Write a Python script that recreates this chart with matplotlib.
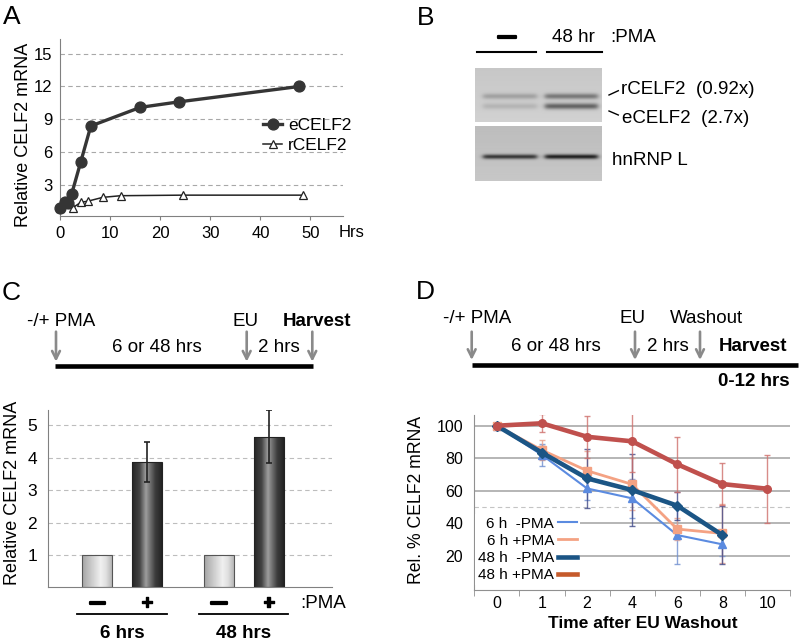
import numpy as np
import matplotlib
matplotlib.use("Agg")
import matplotlib.pyplot as plt
from matplotlib.lines import Line2D
from matplotlib import transforms
from matplotlib import patheffects as pe

plt.rcParams["font.family"] = ["Liberation Sans", "DejaVu Sans"]

W, H = 802, 640

# ---- panel A: time course (hrs) ----
a_e_hrs = [0, 1, 1.6, 2.3, 4.1, 6.1, 16, 23.7, 47.7]
a_e_val = [0.95, 1.5, 1.4, 2.25, 5.15, 8.4, 10.1, 10.6, 12.0]
a_r_hrs = [0, 2.5, 4.1, 5.5, 8.5, 12.1, 24.5, 48.5]
a_r_val = [0.9, 0.95, 1.45, 1.55, 1.9, 2.05, 2.1, 2.1]
a_yticks = [3, 6, 9, 12, 15]
a_xticks = [0, 10, 20, 30, 40, 50]

# ---- panel B: western blot (band darkness per lane) ----
b_lanes = ["\u2014", "48 hr"]
b_r_dark = [0.17, 0.33]
b_e_dark = [0.10, 0.42]
b_l_dark = [0.55, 0.64]

# ---- panel C: bars ----
c_pma = ["\u2014", "+", "\u2014", "+"]
c_groups = ["6 hrs", "48 hrs"]
c_val = [1.0, 3.87, 1.0, 4.65]
c_err = [0.0, 0.62, 0.0, 0.82]

# ---- panel D: decay after washout ----
d_time = ["0", "1", "2", "4", "6", "8", "10"]
d_labels = ["6 h  -PMA", "6 h +PMA", "48 h  -PMA", "48 h +PMA"]
d_6m = [100, 82, 61.4, 55.3, 32.7, 27.0]
d_6m_err = [1.5, 7, 7, 12, 18, 7]
d_6p = [100, 85, 72.3, 63.9, 36.4, 33.7]
d_6p_err = [1.5, 6, 12, 16, 7, 18]
d_48m = [100, 83.4, 67.6, 60.4, 50.8, 32.7]
d_48m_err = [1.5, 4, 18, 22, 8.6, 18]
d_48p = [100, 101.5, 93.2, 90.4, 76.3, 64.1, 61.2]
d_48p_err = [1.5, 5.5, 13, 19, 17, 12.7, 21]

FS = 13.5
GRAY = "#8a8a8a"
THICK = [pe.withStroke(linewidth=1.6, foreground="black")]

fig = plt.figure(figsize=(W/100, H/100), dpi=100)
ov = fig.add_axes([0, 0, 1, 1])
ov.axis("off")

def px_axes(x0, y0, x1, y1):
    ax = fig.add_axes([x0/W, 1-y1/H, (x1-x0)/W, (y1-y0)/H])
    ax.set_facecolor("none")
    return ax

def t(x, y, s, **kw):
    kw.setdefault("fontsize", FS); kw.setdefault("ha", "center"); kw.setdefault("va", "center")
    ov.text(x, y, s, **kw)

# panel letters
for (x, y, s) in [(11.5, 17, "A"), (426, 18, "B"), (11, 293, "C"), (425, 292, "D")]:
    t(x, y, s, fontsize=19)

# ================= A =================
axA = px_axes(60.3, 39.3, 343, 216)
for v in a_yticks:
    axA.axhline(v, color="#a8a8a8", ls=(0, (4, 3)), lw=0.8, zorder=0)
axA.plot(a_r_hrs, a_r_val, "-^", color="#222222", mfc="white", mec="#222222", lw=1.1, ms=5.5, mew=0.9,
         clip_on=False, zorder=3, label="rCELF2")
axA.plot(a_e_hrs, a_e_val, "-o", color="#353535", lw=2.4, ms=7.8, clip_on=False, zorder=4, label="eCELF2")
axA.set_xlim(0, 56.5); axA.set_ylim(0.2, 16.3)
axA.set_xticks(a_xticks); axA.set_yticks(a_yticks)
axA.tick_params(axis="x", length=3, color="#808080", labelsize=12, pad=4.5)
axA.tick_params(axis="y", length=0, labelsize=12, pad=5.5)
for s in ["top", "right"]:
    axA.spines[s].set_visible(False)
for s in ["left", "bottom"]:
    axA.spines[s].set_color("#808080")
h, l = axA.get_legend_handles_labels()
axA.legend(h[::-1], l[::-1], loc="center left", bbox_to_anchor=(263/W, 1-135.5/H), bbox_transform=fig.transFigure,
           frameon=False, handlelength=1.1, handletextpad=0.35, borderpad=0, borderaxespad=0,
           labelspacing=0.3, fontsize=12.5)
t(352, 232.7, "Hrs", fontsize=12)
t(23.3, 135, "Relative CELF2 mRNA", fontsize=13, rotation=90)

# ================= B =================
def blot(x0, x1, y0, y1, bg, bands):
    xs = np.linspace(x0, x1, int((x1-x0)*3)); ys = np.linspace(y0, y1, int((y1-y0)*3))
    X, Y = np.meshgrid(xs, ys)
    img = np.full(X.shape, bg) + 0.04*(Y-y0)/(y1-y0)
    for (lx0, lx1, by, bh, d) in bands:
        wx = 1/(1+np.exp(-(X-lx0)*0.7)) / (1+np.exp((X-lx1)*0.7))
        img = img - d*wx*np.exp(-((Y-by)/bh)**2)
    ov.imshow(img, cmap="gray", vmin=0, vmax=1, extent=(x0, x1, y1, y0), aspect="auto",
              interpolation="bilinear", zorder=2)

lane_x = [(483, 537), (545, 598)]
blot(475, 602, 67.7, 121.7, 0.78,
     [(lane_x[i][0], lane_x[i][1], 96, 2.8, b_r_dark[i]) for i in range(2)] +
     [(lane_x[i][0], lane_x[i][1], 106, 3.0, b_e_dark[i]) for i in range(2)])
blot(475, 602, 126.7, 181, 0.74,
     [(lane_x[i][0], lane_x[i][1], 157, 2.3, b_l_dark[i]) for i in range(2)])
ov.plot([476.7, 536], [51.7, 51.7], color="black", lw=1.5)
ov.plot([546.7, 601.7], [51.7, 51.7], color="black", lw=1.5)
t(507, 37.7, b_lanes[0], fontsize=13, fontweight="bold", path_effects=THICK)
t(573, 37.7, b_lanes[1])
t(610.7, 37.7, ":PMA", ha="left")
t(620.7, 89.3, "rCELF2  (0.92x)", ha="left")
t(621.7, 118.3, "eCELF2  (2.7x)", ha="left")
ov.plot([609, 618.3], [95, 90.7], color="black", lw=1)
ov.plot([609, 618.3], [111, 115], color="black", lw=1)
t(612, 160.7, "hnRNP L", ha="left")

# ================= C =================
def timeline(arrows_x, y0, y1, line_x0, line_x1, line_y):
    for x in arrows_x:
        ov.annotate("", xy=(x, y1), xytext=(x, y0),
                    arrowprops=dict(arrowstyle="->", color=GRAY, lw=1.9, mutation_scale=14, shrinkA=0, shrinkB=0))
    ov.plot([line_x0, line_x1], [line_y, line_y], color="black", lw=3.3, solid_capstyle="butt")

timeline([56, 246.7, 312.3], 331.7, 361.7, 55, 313, 365.7)
t(26.7, 321.7, "-/+ PMA", ha="left")
t(156.7, 347.7, "6 or 48 hrs")
t(246, 321.7, "EU")
t(317.3, 321.7, "Harvest", fontweight="bold")
t(279.3, 347.7, "2 hrs")

axC = px_axes(48.3, 410, 331.7, 587.4)
gap = 2.45
c_pos = [g*gap + k for g in range(len(c_groups)) for k in range(2)]
for v in range(1, 6):
    axC.axhline(v, color="#bdbdbd", ls=(0, (4, 3)), lw=0.8, zorder=0)
bars = axC.bar(c_pos, c_val, width=0.6, facecolor="none", zorder=3,
               edgecolor=["#555555", "#222222", "#555555", "#222222"], lw=0.8)
light = [(0, 0.64), (0.2, 0.74), (0.62, 0.94), (0.8, 0.88), (1, 0.72)]
dark = [(0, 0.15), (0.25, 0.26), (0.47, 0.62), (0.56, 0.5), (0.78, 0.24), (1, 0.14)]
tt = np.linspace(0, 1, 80)
for b, sign in zip(bars, c_pma):
    stops = dark if sign == "+" else light
    g = np.interp(tt, [s[0] for s in stops], [s[1] for s in stops])
    im = axC.imshow(np.tile(g, (2, 1)), cmap="gray", vmin=0, vmax=1, aspect="auto", interpolation="bilinear",
                    extent=(b.get_x(), b.get_x()+b.get_width(), 0, b.get_height()), zorder=2.5)
    im.set_clip_path(b)
ep = [p for p, e in zip(c_pos, c_err) if e > 0]
axC.errorbar(ep, [v for v, e in zip(c_val, c_err) if e > 0], yerr=[e for e in c_err if e > 0],
             fmt="none", ecolor="#222222", elinewidth=1.2, capsize=2.5, capthick=1.2, zorder=4)
axC.set_xlim(-0.986, 4.72); axC.set_ylim(0, 5.47)
axC.set_xticks([]); axC.set_yticks(range(1, 6))
axC.tick_params(axis="y", length=0, labelsize=12.5, pad=8)
for s in ["top", "right"]:
    axC.spines[s].set_visible(False)
for s in ["left", "bottom"]:
    axC.spines[s].set_color("#808080")
bt = transforms.blended_transform_factory(axC.transData, ov.transData)
for p, s in zip(c_pos, c_pma):
    if s == "+":
        axC.text(p, 603.3, s, transform=bt, fontsize=FS+1, fontweight="bold", ha="center", va="center",
                 clip_on=False, path_effects=[pe.withStroke(linewidth=1.0, foreground="black")])
    else:
        axC.text(p, 603.3, s, transform=bt, fontsize=11, fontweight="bold", ha="center", va="center",
                 clip_on=False, path_effects=THICK)
for gi, gl in enumerate(c_groups):
    cx = gi*gap + 0.5
    axC.plot([cx-0.9, cx+0.9], [614.3, 614.3], transform=bt, color="black", lw=1.3, clip_on=False)
    axC.text(cx, 633, gl, transform=bt, fontsize=FS, fontweight="bold", ha="center", va="center", clip_on=False)
t(300, 603.3, ":PMA", ha="left")
t(12.7, 492.7, "Relative CELF2 mRNA", fontsize=13, rotation=90)

# ================= D =================
timeline([471.7, 635, 700], 331.7, 360, 471.7, 798, 365)
t(443.3, 318.3, "-/+ PMA", ha="left")
t(632.3, 318.3, "EU")
t(706, 318.3, "Washout")
t(556, 346.7, "6 or 48 hrs")
t(667.7, 346.7, "2 hrs")
t(753.3, 346.7, "Harvest", fontweight="bold")
t(790, 381.7, "0-12 hrs", fontweight="bold", ha="right")

axD = px_axes(474.3, 415, 790, 590)
for v in [20, 40, 60, 80, 100]:
    axD.axhline(v, color="#b0b0b0", lw=1.3, zorder=0)
axD.axhline(50, color="#c4c4c4", lw=0.8, ls=(0, (4, 3)), zorder=0)
series = [
    (d_6m, d_6m_err, "#5b8be0", 1.5, "^", "#6f8fd0"),
    (d_6p, d_6p_err, "#f4a283", 2.0, "s", "#eaa08a"),
    (d_48m, d_48m_err, "#1b5585", 3.3, "D", "#404a88"),
    (d_48p, d_48p_err, "#c0504d", 3.3, "o", "#cf6f6c"),
]
for vals, errs, col, lw, mk, ecol in series:
    x = np.arange(len(vals))
    axD.errorbar(x, vals, yerr=errs, fmt="none", ecolor=ecol, elinewidth=1.0, capsize=2.5, alpha=0.8, zorder=2)
    axD.plot(x, vals, color=col, lw=lw, marker=mk, ms=5.5, mec=col, zorder=3, clip_on=False)
axD.set_xlim(-0.45, 6.48); axD.set_ylim(-1.1, 106.6)
axD.set_xticks(range(len(d_time))); axD.set_xticklabels(d_time)
axD.set_xticks(np.arange(-0.5, 7, 1), minor=True)
axD.set_yticks([20, 40, 60, 80, 100])
axD.tick_params(axis="x", which="major", length=0, labelsize=11.5, pad=4)
axD.tick_params(axis="x", which="minor", length=4, color="#909090")
axD.tick_params(axis="y", length=0, labelsize=11.5, pad=8)
for s in ["top", "right"]:
    axD.spines[s].set_visible(False)
for s in ["left", "bottom"]:
    axD.spines[s].set_color("#909090")
leg_cols = ["#5b8be0", "#f4a283", "#1b5585", "#c55a2b"]
leg_lw = [1.5, 2.0, 3.3, 3.3]
handles = [Line2D([], [], color=c, lw=w) for c, w in zip(leg_cols, leg_lw)]
lg = axD.legend(handles, d_labels, loc="lower right", bbox_to_anchor=(580/W, 1-585/H), bbox_transform=fig.transFigure,
                markerfirst=False, frameon=True, facecolor="white", edgecolor="none", framealpha=1, fancybox=False,
                handlelength=1.25, handletextpad=0.25, borderpad=0.2, borderaxespad=0, labelspacing=0.2,
                fontsize=11)
for txt in lg.get_texts():
    txt.set_ha("right")
t(643, 623.3, "Time after EU Washout", fontsize=12.5, fontweight="bold")
t(416.7, 500, "Rel. % CELF2 mRNA", fontsize=12.7, rotation=90)

ov.set_xlim(0, W); ov.set_ylim(H, 0)
fig.savefig("out.png", dpi=100)
